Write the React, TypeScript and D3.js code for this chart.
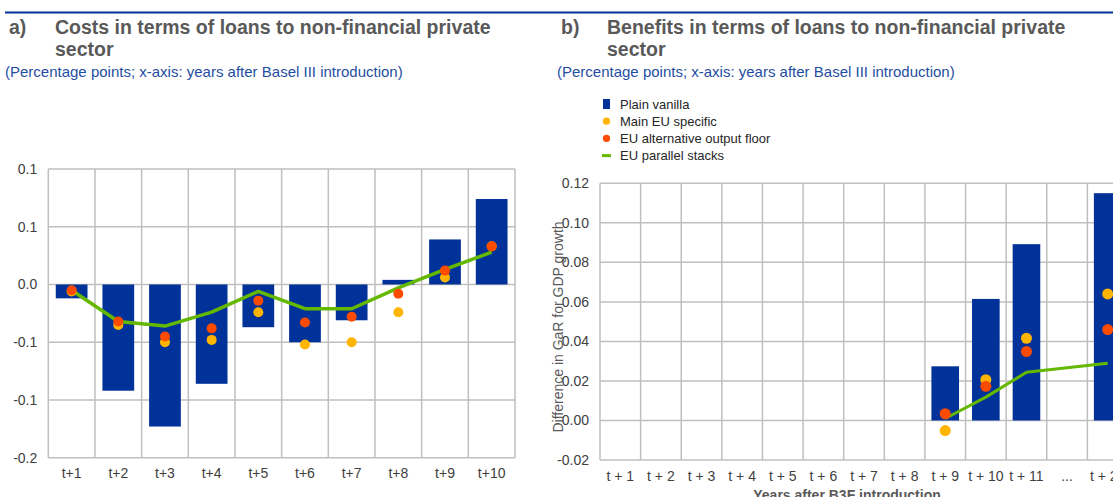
import React, { useRef, useEffect } from 'react';
import * as d3 from 'd3';

// panel a) costs
const costCategories = ['t+1', 't+2', 't+3', 't+4', 't+5', 't+6', 't+7', 't+8', 't+9', 't+10'];
const costPlainVanilla = [-0.012, -0.092, -0.123, -0.086, -0.037, -0.050, -0.031, 0.004, 0.039, 0.074];
const costMainEU = [-0.006, -0.035, -0.050, -0.048, -0.024, -0.052, -0.050, -0.024, 0.006, 0.033];
const costAltFloor = [-0.005, -0.032, -0.045, -0.038, -0.014, -0.033, -0.028, -0.008, 0.012, 0.033];
const costParallel = [-0.005, -0.032, -0.036, -0.024, -0.006, -0.021, -0.021, -0.003, 0.013, 0.028];
const costTicks = [0.1, 0.05, 0, -0.05, -0.1, -0.15];
const costTickLabels = ['0.1', '0.1', '0.0', '-0.1', '-0.1', '-0.2'];

// panel b) benefits
const benefitCategories = ['t + 1', 't + 2', 't + 3', 't + 4', 't + 5', 't + 6', 't + 7', 't + 8', 't + 9', 't + 10', 't + 11', '...', 't + 20'];
const benefitPlainVanilla = [null, null, null, null, null, null, null, null, 0.0274, 0.0615, 0.0892, null, 0.115];
const benefitMainEU = [null, null, null, null, null, null, null, null, -0.0051, 0.0206, 0.0416, null, 0.064];
const benefitAltFloor = [null, null, null, null, null, null, null, null, 0.0034, 0.0173, 0.0349, null, 0.046];
const benefitParallel = [null, null, null, null, null, null, null, null, 0.001, 0.0118, 0.0244, null, 0.029];
const benefitTicks = [0.12, 0.10, 0.08, 0.06, 0.04, 0.02, 0.00, -0.02];
const benefitTickLabels = ['0.12', '0.10', '0.08', '0.06', '0.04', '0.02', '0.00', '-0.02'];

const legendItems = ['Plain vanilla', 'Main EU specific', 'EU alternative output floor', 'EU parallel stacks'];

const BLUE = '#003299';
const YELLOW = '#FFB400';
const RED = '#FF4B00';
const GREEN = '#65B800';
const GRID = '#BFBFBF';
const FONT = '"Liberation Sans", Arial, sans-serif';

function drawPanel(svg, opts) {
    const { cats, bars, mainEU, altFloor, parallel, ticks, tickLabels, x0, x1, y0, y1, domain, r, lineW, labelY } = opts;

    const x = d3.scaleBand().domain(cats).range([x0, x1]);
    const y = d3.scaleLinear().domain(domain).range([y1, y0]);
    const g = svg.append('g');

    // horizontal grid
    g.selectAll('line.h').data(ticks).enter().append('line')
        .attr('x1', x0).attr('x2', x1)
        .attr('y1', d => y(d)).attr('y2', d => y(d))
        .attr('stroke', GRID).attr('stroke-width', 1.5);

    // vertical grid at category edges
    const edges = cats.map(c => x(c)).concat([x1]);
    g.selectAll('line.v').data(edges).enter().append('line')
        .attr('x1', d => d).attr('x2', d => d)
        .attr('y1', y0).attr('y2', y1)
        .attr('stroke', GRID).attr('stroke-width', 1.5);

    // y tick labels
    g.selectAll('text.yt').data(ticks).enter().append('text')
        .attr('x', x0 - 11).attr('y', d => y(d)).attr('dy', '0.35em')
        .attr('text-anchor', 'end')
        .attr('font-family', FONT).attr('font-size', 14).attr('fill', '#404040')
        .text((d, i) => tickLabels[i]);

    // x tick labels
    g.selectAll('text.xt').data(cats).enter().append('text')
        .attr('x', d => x(d) + x.bandwidth() / 2).attr('y', labelY)
        .attr('text-anchor', 'middle')
        .attr('font-family', FONT).attr('font-size', 14).attr('fill', '#404040')
        .text(d => d);

    const bw = x.bandwidth() * 0.68;
    const pts = (vals) => vals.map((v, i) => ({ c: cats[i], v })).filter(d => d.v !== null);

    g.selectAll('rect.bar').data(pts(bars)).enter().append('rect')
        .attr('x', d => x(d.c) + (x.bandwidth() - bw) / 2)
        .attr('width', bw)
        .attr('y', d => Math.min(y(d.v), y(0)))
        .attr('height', d => Math.abs(y(d.v) - y(0)))
        .attr('fill', BLUE);

    const line = d3.line()
        .x(d => x(d.c) + x.bandwidth() / 2)
        .y(d => y(d.v));
    g.append('path').datum(pts(parallel))
        .attr('d', line).attr('fill', 'none')
        .attr('stroke', GREEN).attr('stroke-width', lineW)
        .attr('stroke-linejoin', 'round');

    [[mainEU, YELLOW], [altFloor, RED]].forEach(([vals, col]) => {
        g.selectAll(null).data(pts(vals)).enter().append('circle')
            .attr('cx', d => x(d.c) + x.bandwidth() / 2)
            .attr('cy', d => y(d.v))
            .attr('r', r)
            .attr('fill', col);
    });
}

function titleBlock(svg, xs, letter, line1, line2) {
    const g = svg.append('g').attr('font-family', FONT);
    g.append('text').attr('x', xs).attr('y', 33.5).attr('font-size', 19.5).attr('font-weight', 'bold')
        .attr('fill', '#595959').text(letter);
    g.append('text').attr('x', xs + 46).attr('y', 33.5).attr('font-size', 19.5).attr('font-weight', 'bold')
        .attr('fill', '#595959').text(line1);
    g.append('text').attr('x', xs + 46).attr('y', 55.5).attr('font-size', 19.5).attr('font-weight', 'bold')
        .attr('fill', '#595959').text(line2);
    g.append('text').attr('x', xs - 4).attr('y', 77).attr('font-size', 15)
        .attr('fill', '#1F4EA3').text('(Percentage points; x-axis: years after Basel III introduction)');
}

export default function App() {
    const svgRef = useRef(null);

    useEffect(() => {
        const svg = d3.select(svgRef.current);
        svg.selectAll('*').remove();

        svg.append('line').attr('x1', 5).attr('x2', 1113).attr('y1', 12.5).attr('y2', 12.5)
            .attr('stroke', BLUE).attr('stroke-width', 2);

        titleBlock(svg, 9, 'a)', 'Costs in terms of loans to non-financial private', 'sector');
        titleBlock(svg, 561, 'b)', 'Benefits in terms of loans to non-financial private', 'sector');

        drawPanel(svg, {
            cats: costCategories, bars: costPlainVanilla, mainEU: costMainEU, altFloor: costAltFloor,
            parallel: costParallel, ticks: costTicks, tickLabels: costTickLabels,
            x0: 48.3, x1: 515, y0: 169, y1: 457.7, domain: [-0.15, 0.1], r: 5, lineW: 3.5, labelY: 478
        });

        drawPanel(svg, {
            cats: benefitCategories, bars: benefitPlainVanilla, mainEU: benefitMainEU, altFloor: benefitAltFloor,
            parallel: benefitParallel, ticks: benefitTicks, tickLabels: benefitTickLabels,
            x0: 600, x1: 1128, y0: 183.3, y1: 460, domain: [-0.02, 0.12], r: 5.5, lineW: 3, labelY: 481
        });

        // axis titles of panel b
        svg.append('text')
            .attr('transform', 'translate(563,327) rotate(-90)')
            .attr('text-anchor', 'middle').attr('font-family', FONT).attr('font-size', 14)
            .attr('fill', '#595959').text('Difference in GaR for GDP growth');
        svg.append('text')
            .attr('x', 847).attr('y', 500).attr('text-anchor', 'middle')
            .attr('font-family', FONT).attr('font-size', 14).attr('font-weight', 'bold')
            .attr('fill', '#595959').text('Years after B3F introduction');

        // legend
        const lg = svg.append('g').attr('font-family', FONT);
        legendItems.forEach((name, i) => {
            const cy = 104 + i * 17.2;
            if (i === 0) lg.append('rect').attr('x', 603).attr('y', cy - 5).attr('width', 7).attr('height', 10).attr('fill', BLUE);
            if (i === 1) lg.append('circle').attr('cx', 606.5).attr('cy', cy).attr('r', 3.6).attr('fill', YELLOW);
            if (i === 2) lg.append('circle').attr('cx', 606.5).attr('cy', cy).attr('r', 3.6).attr('fill', RED);
            if (i === 3) lg.append('rect').attr('x', 602).attr('y', cy - 1.5).attr('width', 9).attr('height', 3).attr('fill', GREEN);
            lg.append('text').attr('x', 620).attr('y', cy).attr('dy', '0.35em')
                .attr('font-size', 13).attr('fill', '#262626').text(name);
        });
    }, []);

    return (
        <svg ref={svgRef} width={1113} height={497}
            style={{ position: 'absolute', left: 0, top: 0, background: '#fff' }} />
    );
}
